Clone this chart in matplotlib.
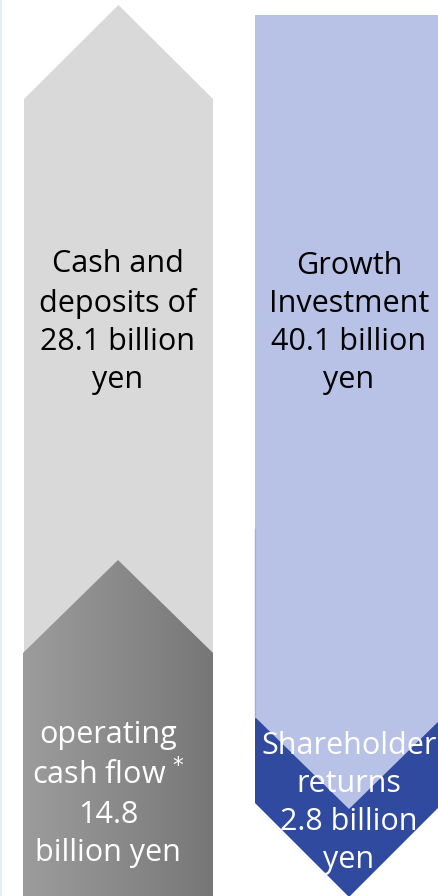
import numpy as np
import matplotlib
matplotlib.use("Agg")
import matplotlib.pyplot as plt
from matplotlib.patches import Polygon

# chart content
block_names = ["Cash and deposits", "operating cash flow", "Growth Investment", "Shareholder returns"]
block_values = [28.1, 14.8, 40.1, 2.8]
block_labels = [
    "Cash and\ndeposits of\n{:.1f} billion\nyen",
    "operating\ncash flow $^{{*}}$\n{:.1f}\nbillion yen",
    "Growth\nInvestment\n{:.1f} billion\nyen",
    "Shareholder\nreturns\n{:.1f} billion\nyen",
]

W, H = 439, 896
plt.rcParams['font.family'] = ['Open Sans', 'DejaVu Sans']

fig = plt.figure(figsize=(W / 100, H / 100), dpi=100)
ax = fig.add_axes([0, 0, 1, 1])
ax.set_xlim(0, W)
ax.set_ylim(H, 0)
ax.axis('off')


def up_arrow(x0, x1, tip, shoulder, bottom):
    xm = (x0 + x1) / 2
    return [(xm, tip), (x1, shoulder), (x1, bottom), (x0, bottom), (x0, shoulder)]


def down_arrow(x0, x1, top, shoulder, tip):
    xm = (x0 + x1) / 2
    return [(x0, top), (x1, top), (x1, shoulder), (xm, tip), (x0, shoulder)]


# faint left border
ax.plot([1, 1], [0, H], color='#e6ecf7', lw=1.5)

# left column: cash on hand and operating cash flow
ax.add_patch(Polygon(up_arrow(24, 213, 5, 99, H + 5), closed=True,
                     facecolor='#d9d9d9', edgecolor='none'))
dark = Polygon(up_arrow(23, 213, 560, 653, H + 5), closed=True,
               facecolor='none', edgecolor='none')
ax.add_patch(dark)
grad = np.linspace(0, 1, 200).reshape(1, -1)
img = ax.imshow(grad, cmap=matplotlib.colors.LinearSegmentedColormap.from_list(
    'g', ['#9c9c9c', '#8a8a8a', '#777777']), extent=(23, 213, H + 5, 560),
    aspect='auto', zorder=2)
img.set_clip_path(dark)

# right column: growth investment and shareholder returns
ax.add_patch(Polygon(down_arrow(255, 443, 717, 803, 897), closed=True,
                     facecolor='#304a9f', edgecolor='none', zorder=2))
ax.add_patch(Polygon(down_arrow(255, 443, 15, 717, 809), closed=True,
                     facecolor='#b8c2e7', edgecolor='none', zorder=3))
ax.plot([255.5, 255.5], [529, 717], color='#a5afd6', lw=1, zorder=4)

fs = 22
ls = 1.36
ax.text(118, 322, block_labels[0].format(block_values[0]), ha='center', va='center',
        fontsize=fs, color='black', linespacing=ls, zorder=5)
ax.text(108, 794, block_labels[1].format(block_values[1]), ha='center', va='center',
        fontsize=fs, color='white', linespacing=ls, zorder=5)
ax.text(349, 323, block_labels[2].format(block_values[2]), ha='center', va='center',
        fontsize=fs, color='black', linespacing=ls, zorder=5)
ax.text(349, 803, block_labels[3].format(block_values[3]), ha='center', va='center',
        fontsize=fs, color='white', linespacing=ls, zorder=5)

fig.savefig('out.png', dpi=100)
